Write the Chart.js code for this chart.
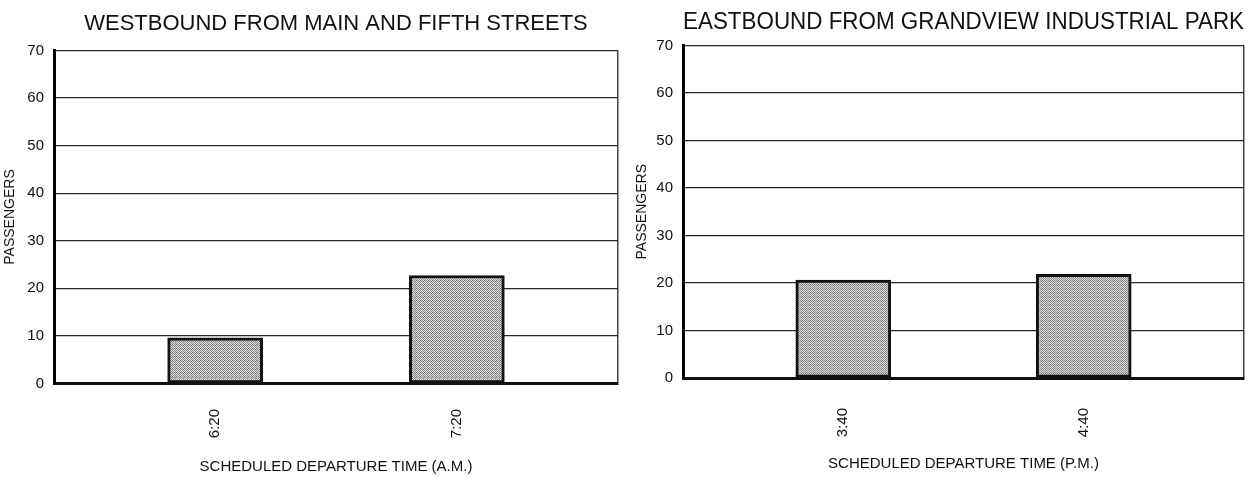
<!DOCTYPE html>
<html lang="en">
<head>
<meta charset="UTF-8">
<title>Bus ridership by departure</title>
<script src="https://cdn.jsdelivr.net/npm/chart.js@4.4.0/dist/chart.umd.min.js"></script>
<style>
    html, body {
        margin: 0;
        padding: 0;
        background: #fff;
        overflow: hidden;
    }
    .panel {
        position: absolute;
        top: 0;
        height: 477px;
    }
    #west-panel { left: 0; width: 633px; }
    #east-panel { left: 630px; width: 629px; }
</style>
</head>
<body>
<div class="panel" id="west-panel"><canvas id="west"></canvas></div>
<div class="panel" id="east-panel"><canvas id="east"></canvas></div>
<script>
// ridership per scheduled run
const westTitle = 'WESTBOUND FROM MAIN AND FIFTH STREETS';
const westTimes = ['6:20', '7:20'];
const westPassengers = [9.6, 22.7];
const westAxisTitle = 'SCHEDULED DEPARTURE TIME (A.M.)';

const eastTitle = 'EASTBOUND FROM GRANDVIEW INDUSTRIAL PARK';
const eastTimes = ['3:40', '4:40'];
const eastPassengers = [20.6, 21.8];
const eastAxisTitle = 'SCHEDULED DEPARTURE TIME (P.M.)';

const yTitle = 'PASSENGERS';
const yMax = 70;
const yStep = 10;

const FONT = '"Liberation Sans", Arial, Helvetica, sans-serif';
const INK = '#111';

// x axis is 7 equal slots wide; the two runs sit on slot 2 and slot 5
const SLOT_COUNT = 8;
const RUN_SLOTS = [2, 5];
function spread(items, empty) {
    const out = new Array(SLOT_COUNT).fill(empty);
    items.forEach((v, i) => { out[RUN_SLOTS[i]] = v; });
    return out;
}

// grey halftone fill for the bars
function stipple() {
    const c = document.createElement('canvas');
    c.width = 4;
    c.height = 4;
    const g = c.getContext('2d');
    g.fillStyle = '#dcdcdc';
    g.fillRect(0, 0, 4, 4);
    g.fillStyle = '#8c8c8c';
    for (let y = 0; y < 4; y++) {
        for (let x = 0; x < 4; x++) {
            if ((x + y) % 2 === 0) g.fillRect(x, y, 1, 1);
        }
    }
    g.fillStyle = '#666';
    g.fillRect(0, 0, 1, 1);
    g.fillRect(3, 1, 1, 1);
    return g.createPattern(c, 'repeat');
}

function makeChart(id, title, times, values, axisTitle, geo) {
    const last = SLOT_COUNT - 1;
    return new Chart(document.getElementById(id), {
        type: 'bar',
        data: {
            labels: spread(times, ''),
            datasets: [{
                data: spread(values, null),
                backgroundColor: stipple(),
                borderColor: INK,
                borderWidth: 3,
                borderSkipped: false,
                barThickness: 95
            }]
        },
        options: {
            responsive: true,
            maintainAspectRatio: false,
            animation: false,
            layout: { padding: { left: 0, right: 15, top: 0, bottom: 0 } },
            plugins: {
                legend: { display: false },
                tooltip: { enabled: false },
                title: {
                    display: true,
                    text: title,
                    fullSize: false,
                    color: INK,
                    font: { family: FONT, size: geo.titleSize, weight: 'normal' },
                    padding: { top: geo.titleTop, bottom: geo.titleBottom }
                }
            },
            scales: {
                x: {
                    offset: false,
                    grid: {
                        offset: false,
                        // invisible tick marks push the time labels down off the baseline
                        drawTicks: true,
                        tickLength: geo.xLabelPad,
                        tickColor: 'rgba(0,0,0,0)',
                        color: c => c.index === last ? '#444' : 'rgba(0,0,0,0)',
                        lineWidth: 1.5
                    },
                    border: { display: true, color: INK, width: 3 },
                    ticks: {
                        autoSkip: false,
                        minRotation: 90,
                        maxRotation: 90,
                        padding: 0,
                        color: INK,
                        font: { family: FONT, size: 15, lineHeight: 1 }
                    },
                    title: {
                        display: true,
                        text: axisTitle,
                        color: INK,
                        font: { family: FONT, size: 15 },
                        padding: { top: 0, bottom: geo.xTitlePad }
                    },
                    afterFit: s => { s.height = geo.xHeight; }
                },
                y: {
                    min: 0,
                    max: yMax,
                    ticks: {
                        stepSize: yStep,
                        padding: 10,
                        color: INK,
                        font: { family: FONT, size: 15 }
                    },
                    grid: { drawTicks: false, color: '#2a2a2a', lineWidth: 1.2 },
                    border: { display: true, color: '#000', width: 3 },
                    title: {
                        display: true,
                        text: yTitle,
                        color: INK,
                        font: { family: FONT, size: 14 },
                        padding: { top: geo.yTitlePad, bottom: 0 }
                    },
                    afterFit: s => { s.width = geo.yWidth; }
                }
            }
        }
    });
}

makeChart('west', westTitle, westTimes, westPassengers, westAxisTitle, {
    titleSize: 22, titleTop: 10.3, titleBottom: 13.8,
    yWidth: 54, yTitlePad: 1.6,
    xHeight: 93.5, xLabelPad: 25.5, xTitlePad: 1.5
});

makeChart('east', eastTitle, eastTimes, eastPassengers, eastAxisTitle, {
    titleSize: 23, titleTop: 8.7, titleBottom: 9.2,
    yWidth: 53, yTitlePad: 3.6,
    xHeight: 99, xLabelPad: 30, xTitlePad: 4.5
});
</script>
</body>
</html>
